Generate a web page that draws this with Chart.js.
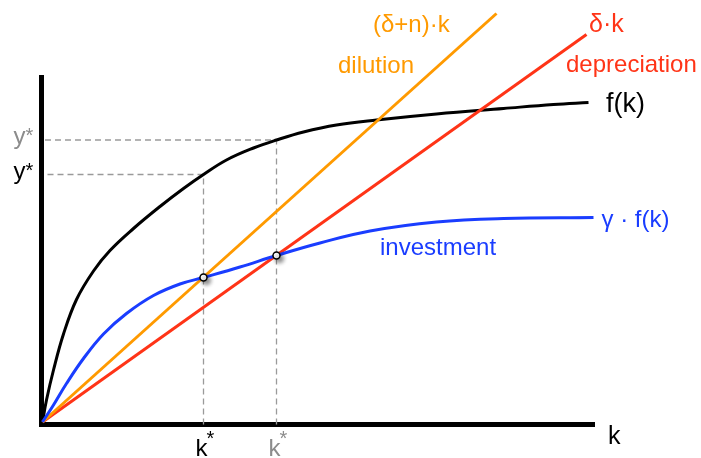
<!DOCTYPE html>
<html>
<head>
<meta charset="utf-8">
<script src="https://cdn.jsdelivr.net/npm/chart.js@4"></script>
<style>
  body { margin: 0; background: #fff; }
  canvas { display: block; }
</style>
</head>
<body>
<canvas id="solowChart" width="701" height="458"></canvas>
<script>
// output per worker f(k)
const fK = [0, 0.08, 0.22, 0.42, 0.68, 1.02, 1.35, 1.82, 2.35, 2.82, 3.22, 3.68, 4.22, 4.68, 5.22, 5.88, 6.68, 7.88, 9.22, 10.22, 10.92];
const fY = [0, 0.44, 1.04, 1.76, 2.45, 3.02, 3.43, 3.87, 4.31, 4.67, 4.95, 5.24, 5.48, 5.64, 5.80, 5.94, 6.04, 6.16, 6.27, 6.35, 6.39];

// investment  γ·f(k)
const invK = [0, 0.22, 0.48, 0.82, 1.22, 1.68, 2.22, 2.75, 3.22, 3.95, 4.68, 5.55, 6.55, 7.88, 9.22, 11.02];
const invY = [0, 0.34, 0.77, 1.27, 1.76, 2.17, 2.53, 2.76, 2.89, 3.10, 3.33, 3.58, 3.82, 4.00, 4.07, 4.09];

// straight lines (δ+n)·k and δ·k
const dilutionK = [0, 9.08];
const dilutionY = [0, 8.17];
const deprK = [0, 10.88];
const deprY = [0, 7.75];

// steady states: k*, investment at k*, output y*
const kStar = [3.22, 4.68];
const sStar = [2.89, 3.33];
const yStar = [4.95, 5.64];
const starColors = ['#000000', '#8c8c8c'];

// axis extents
const kAxisEnd = 11.05;
const yAxisEnd = 6.94;

const BLUE = '#1a3dff';
const ORANGE = '#ff9a00';
const RED = '#ff3417';
const FAMILY = "'Liberation Sans', Arial, sans-serif";

function toPoints(xs, ys) {
    return xs.map((x, i) => ({ x: x, y: ys[i] }));
}

function lineSet(xs, ys, color, order, extra) {
    return Object.assign({
        data: toPoints(xs, ys),
        borderColor: color,
        borderWidth: 3,
        pointRadius: 0,
        showLine: true,
        fill: false,
        order: order
    }, extra || {});
}

const datasets = [];
// equilibrium markers (drawn on top)
datasets.push({
    data: toPoints(kStar, sStar),
    pointRadius: 3.5,
    pointBackgroundColor: '#fff',
    pointBorderColor: '#000',
    pointBorderWidth: 1.5,
    showLine: false,
    order: 0,
    isMarker: true
});
datasets.push(lineSet(invK, invY, BLUE, 1, { tension: 0.4 }));
datasets.push(lineSet(dilutionK, dilutionY, ORANGE, 2));
datasets.push(lineSet(deprK, deprY, RED, 3));
datasets.push(lineSet(fK, fY, '#000', 4, { tension: 0.4 }));
// dashed guides from k* up to f(k*) and over to the y axis
kStar.forEach((k, i) => {
    datasets.push(lineSet([k, k, 0.05], [-0.05, yStar[i], yStar[i]], '#9a9a9a', 5, {
        borderWidth: 1.3,
        borderDash: [6, 4]
    }));
});
// thick axes
datasets.push(lineSet([-0.07, kAxisEnd], [-0.05, -0.05], '#000', 6, { borderWidth: 5 }));
datasets.push(lineSet([-0.02, -0.02], [-0.1, yAxisEnd], '#000', 6, { borderWidth: 5 }));

const shadowPlugin = {
    id: 'markerShadow',
    beforeDatasetDraw(chart, args) {
        if (chart.data.datasets[args.index].isMarker) {
            const ctx = chart.ctx;
            ctx.save();
            ctx.shadowColor = 'rgba(0,0,0,0.45)';
            ctx.shadowBlur = 4;
            ctx.shadowOffsetX = 3;
            ctx.shadowOffsetY = 3;
        }
    },
    afterDatasetDraw(chart, args) {
        if (chart.data.datasets[args.index].isMarker) {
            chart.ctx.restore();
        }
    }
};

// curve names and axis labels, anchored in data coordinates
const labels = [
    { text: 'k', x: 11.31, y: -0.44, color: '#000', size: 25 },
    { text: 'f(k)', x: 11.27, y: 6.2, color: '#000', size: 27 },
    { text: 'γ · f(k)', x: 11.18, y: 3.9, color: BLUE, size: 24 },
    { text: 'investment', x: 6.75, y: 3.34, color: BLUE, size: 24 },
    { text: 'δ·k', x: 10.93, y: 7.8, color: RED, size: 25 },
    { text: 'depreciation', x: 10.47, y: 7.0, color: RED, size: 24 },
    { text: '(δ+n)·k', x: 6.61, y: 7.8, color: ORANGE, size: 24 },
    { text: 'dilution', x: 5.91, y: 6.98, color: ORANGE, size: 24 }
];

const labelPlugin = {
    id: 'labels',
    afterDraw(chart) {
        const ctx = chart.ctx;
        const xs = chart.scales.x;
        const ys = chart.scales.y;
        ctx.save();
        ctx.textBaseline = 'alphabetic';
        ctx.textAlign = 'left';
        labels.forEach(l => {
            ctx.font = l.size + 'px ' + FAMILY;
            ctx.fillStyle = l.color;
            ctx.fillText(l.text, xs.getPixelForValue(l.x), ys.getPixelForValue(l.y));
        });
        // y* ticks on the left, k* ticks under the axis
        const axisX = xs.getPixelForValue(0);
        const axisY = ys.getPixelForValue(0);
        kStar.forEach((k, i) => {
            ctx.fillStyle = starColors[i];
            const py = ys.getPixelForValue(yStar[i]);
            ctx.textAlign = 'right';
            ctx.font = '24px ' + FAMILY;
            ctx.fillText('y', axisX - 17, py + 4);
            ctx.textAlign = 'left';
            ctx.font = '20px ' + FAMILY;
            ctx.fillText('*', axisX - 17, py + 2);

            const px = xs.getPixelForValue(k);
            ctx.textAlign = 'right';
            ctx.font = '24px ' + FAMILY;
            ctx.fillText('k', px + 4, axisY + 34);
            ctx.textAlign = 'left';
            ctx.font = '20px ' + FAMILY;
            ctx.fillText('*', px + 3, axisY + 23);
        });
        ctx.restore();
    }
};

new Chart(document.getElementById('solowChart').getContext('2d'), {
    type: 'scatter',
    data: { datasets: datasets },
    options: {
        responsive: false,
        animation: false,
        devicePixelRatio: 1,
        layout: { padding: 0, autoPadding: false },
        plugins: {
            legend: { display: false },
            tooltip: { enabled: false }
        },
        scales: {
            x: { type: 'linear', display: false, min: -0.85, max: 13.17 },
            y: { type: 'linear', display: false, min: -0.72, max: 8.44 }
        }
    },
    plugins: [shadowPlugin, labelPlugin]
});
</script>
</body>
</html>
